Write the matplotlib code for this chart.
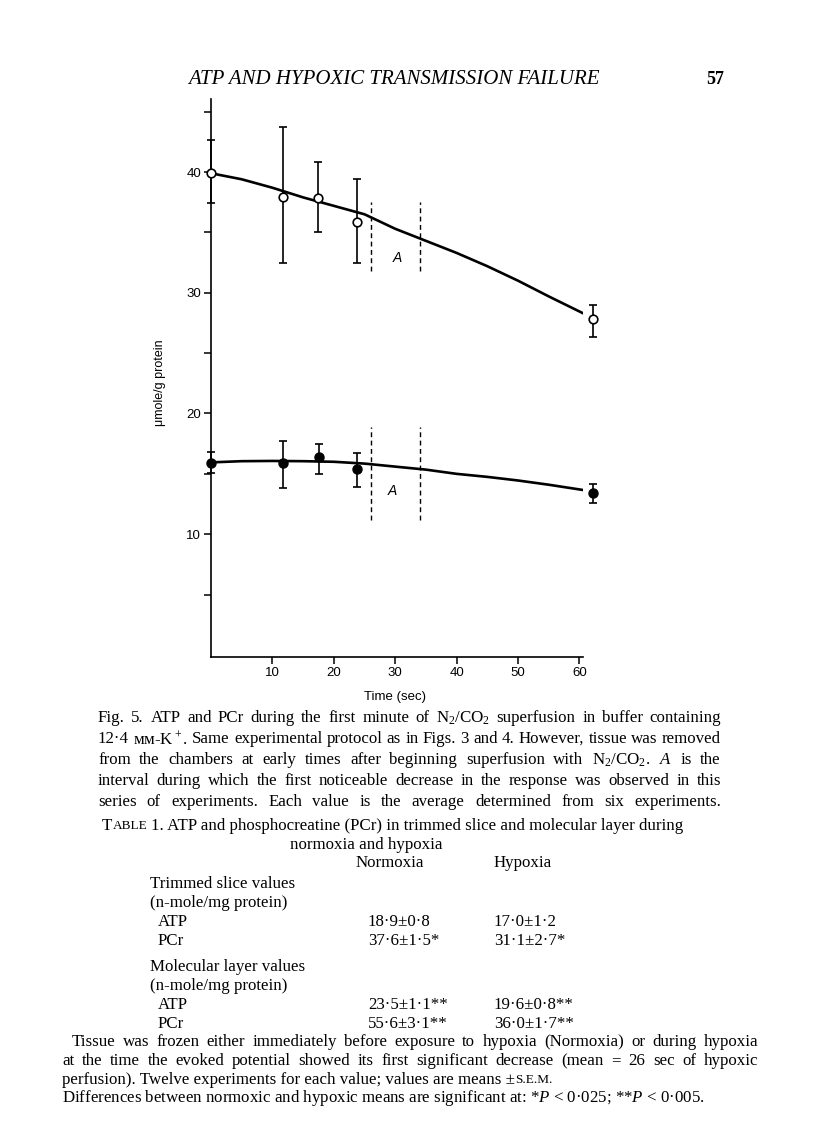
import matplotlib
matplotlib.use('Agg')
import matplotlib.pyplot as plt

W, H = 816, 1142

# PCr (open circles) and ATP (filled circles)
pcr_t = [0, 11.7, 17.4, 23.8, 62.2]
pcr = [39.9, 37.9, 37.85, 35.9, 27.8]
pcr_lo = [37.4, 32.5, 35.0, 32.5, 26.35]
pcr_hi = [42.65, 43.7, 40.8, 39.4, 29.0]

atp_t = [0, 11.7, 17.6, 23.8, 62.2]
atp = [15.9, 15.9, 16.4, 15.4, 13.4]
atp_lo = [15.05, 13.8, 15.0, 13.9, 12.6]
atp_hi = [16.8, 17.7, 17.5, 16.7, 14.2]

# fitted curves, points
curve_t = [0, 5, 10, 15, 20, 25, 30, 35, 40, 45, 50, 55, 61.4]
pcr_curve = [39.9, 39.4, 38.7, 37.9, 37.2, 36.5, 35.3, 34.3, 33.3, 32.2, 31.0, 29.7, 28.1]
atp_curve = [15.95, 16.05, 16.07, 16.05, 16.0, 15.85, 15.6, 15.35, 15.0, 14.75, 14.45, 14.1, 13.6]

# interval A
interval = [26.1, 34.0]
dash_upper = [31.8, 37.5]
dash_lower = [11.2, 18.9]

xticks = [10, 20, 30, 40, 50, 60]
yticks = [10, 20, 30, 40]
ytick_minor = [5, 15, 25, 35, 45]

SERIF = ['Liberation Serif', 'DejaVu Serif']
SANS = ['Liberation Sans', 'DejaVu Sans']
FS = 12.2
plt.rcParams['mathtext.fontset'] = 'custom'
plt.rcParams['mathtext.rm'] = 'Liberation Serif'
plt.rcParams['mathtext.it'] = 'Liberation Serif:italic'
plt.rcParams['mathtext.bf'] = 'Liberation Serif:bold'


def fx(x):
    return x / W


def fy(y):
    return 1 - y / H


fig = plt.figure(figsize=(W / 100, H / 100), dpi=100)
r = fig.canvas.get_renderer()

ax = fig.add_axes([fx(211), fy(657), 371.5 / W, (657 - 99) / H])
ax.set_xlim(0, 60.5)
ax.set_ylim(-0.17, 46.05)

ax.plot(curve_t, pcr_curve, color='k', lw=1.9, solid_capstyle='round', zorder=2)
ax.plot(curve_t, atp_curve, color='k', lw=1.9, solid_capstyle='round', zorder=2)

eb1 = ax.errorbar(pcr_t, pcr,
                  yerr=[[m - l for m, l in zip(pcr, pcr_lo)], [h - m for m, h in zip(pcr, pcr_hi)]],
                  fmt='o', mfc='white', mec='k', mew=1.2, ms=6.2, ecolor='k',
                  elinewidth=1.2, capsize=3, capthick=1.2, zorder=3)
eb2 = ax.errorbar(atp_t, atp,
                  yerr=[[m - l for m, l in zip(atp, atp_lo)], [h - m for m, h in zip(atp, atp_hi)]],
                  fmt='o', mfc='k', mec='k', ms=6.5, ecolor='k',
                  elinewidth=1.2, capsize=3, capthick=1.2, zorder=3)
for eb in (eb1, eb2):
    for a in eb.get_children():
        a.set_clip_on(False)

for x in interval:
    ax.plot([x, x], dash_upper, color='k', lw=1.0, dashes=(3.5, 2.5))
    ax.plot([x, x], dash_lower, color='k', lw=1.0, dashes=(3.5, 2.5))
ax.text(30.4, 32.9, 'A', style='italic', family=SANS, size=10, ha='center', va='center')
ax.text(29.5, 13.6, 'A', style='italic', family=SANS, size=10, ha='center', va='center')

for s in ('top', 'right'):
    ax.spines[s].set_visible(False)
for s in ('left', 'bottom'):
    ax.spines[s].set_linewidth(1.2)
ax.set_xticks(xticks)
ax.set_yticks(yticks)
ax.yaxis.set_minor_locator(plt.FixedLocator(ytick_minor))
ax.tick_params(which='both', direction='out', length=5, width=1.1, labelsize=9.5, pad=2)
for lab in ax.get_xticklabels() + ax.get_yticklabels():
    lab.set_family(SANS)

fig.text(fx(160), fy(383), 'μmole/g protein', rotation=90, family=SANS, size=9,
         ha='center', va='center')
fig.text(fx(395), fy(697), 'Time (sec)', family=SANS, size=9.5, ha='center', va='center')

# page header
fig.text(fx(188), fy(79), 'ATP AND HYPOXIC TRANSMISSION FAILURE', family=SERIF,
         style='italic', size=15, va='center')
fig.text(fx(706), fy(79), '57', family=SERIF, weight='bold', size=13, va='center')


def width(t):
    return t.get_window_extent(renderer=r).width


def space(size):
    a = fig.text(0, 0, 'a a', family=SERIF, size=size)
    b = fig.text(0, 0, 'aa', family=SERIF, size=size)
    w = width(a) - width(b)
    a.remove()
    b.remove()
    return w


def justify(line, x0, x1, y, size=FS):
    words = line.split(' ')
    texts = [fig.text(0, fy(y), w, family=SERIF, size=size, va='center') for w in words]
    ws = [width(t) for t in texts]
    gap = (x1 - x0 - sum(ws)) / (len(words) - 1)
    x = x0
    for t, w in zip(texts, ws):
        t.set_x(fx(x))
        x += w + gap


def put(x, y, s, size=FS, **kw):
    t = fig.text(fx(x), fy(y), s, family=SERIF, size=size, va='center', **kw)
    return x + width(t)


caption = [
    'Fig. 5. ATP and PCr during the first minute of N$_2$/CO$_2$ superfusion in buffer containing',
    '12·4 ᴍᴍ-$\\mathrm{K}^+$. Same experimental protocol as in Figs. 3 and 4. However, tissue was removed',
    'from the chambers at early times after beginning superfusion with N$_2$/CO$_2$. $A$ is the',
    'interval during which the first noticeable decrease in the response was observed in this',
    'series of experiments. Each value is the average determined from six experiments.',
]
for i, line in enumerate(caption):
    justify(line, 98, 721, 718 + 21 * i)

# table
sw = space(FS)
x = put(102, 826, 'T')
x = put(x, 826, 'ABLE', size=9.5)
put(x + sw, 826, '1. ATP and phosphocreatine (PCr) in trimmed slice and molecular layer during')
fig.text(fx(366), fy(845), 'normoxia and hypoxia', family=SERIF, size=FS, ha='center', va='center')

put(356, 863, 'Normoxia')
put(494, 863, 'Hypoxia')

row_labels = ['Trimmed slice values', '(n-mole/mg protein)', 'ATP', 'PCr',
              'Molecular layer values', '(n-mole/mg protein)', 'ATP', 'PCr']
row_y = [884, 903, 922, 941, 967, 986, 1005, 1024]
row_indent = [150, 150, 158, 158, 150, 150, 158, 158]
normoxia = ['', '', '18·9±0·8', '37·6±1·5*', '', '', '23·5±1·1**', '55·6±3·1**']
hypoxia = ['', '', '17·0±1·2', '31·1±2·7*', '', '', '19·6±0·8**', '36·0±1·7**']
for lab, y, xi, n, h in zip(row_labels, row_y, row_indent, normoxia, hypoxia):
    put(xi, y, lab)
    if n:
        put(368, y, n)
        put(494, y, h)

justify('Tissue was frozen either immediately before exposure to hypoxia (Normoxia) or during hypoxia',
        72, 758, 1042)
justify('at the time the evoked potential showed its first significant decrease (mean = 26 sec of hypoxic',
        62, 758, 1061)
x = put(62, 1080, 'perfusion). Twelve experiments for each value; values are means ±')
put(x, 1080, 'S.E.M.', size=9.5)
put(62, 1098, 'Differences between normoxic and hypoxic means are significant at: *$P$ < 0·025; **$P$ < 0·005.')

fig.savefig('out.png', dpi=100)
